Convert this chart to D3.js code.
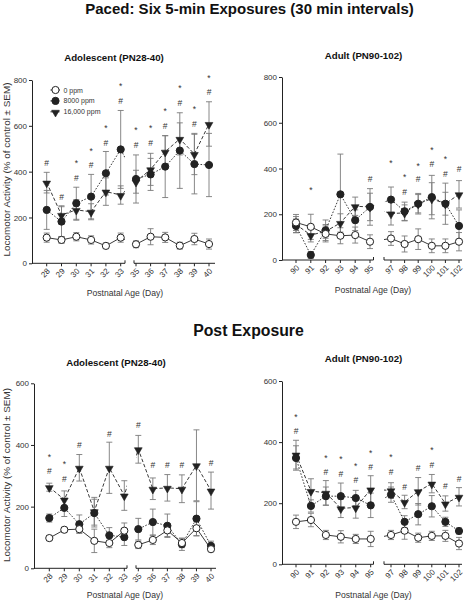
<!DOCTYPE html>
<html><head><meta charset="utf-8">
<script src="https://cdn.jsdelivr.net/npm/d3@7/dist/d3.min.js"></script>
<style>body{margin:0;background:#fff}svg{display:block}</style>
</head><body><svg id="c" width="466" height="600"></svg>
<script>
// ---------- DATA ----------
const adolDays = [28,29,30,31,32,33,35,36,37,38,39,40];
const adultDays = [90,91,92,93,94,95,97,98,99,100,101,102];
const yTicksPaced = [0,200,400,600,800];
const yTicksPost = [0,200,400,600];
const seriesNames = ["0 ppm","8000 ppm","16,000 ppm"];

// Paced – adolescent
const pacedAdol0 = [112,102,116,102,76,112,83,116,113,77,106,84];
const pacedAdol0Sem = [20,15,18,18,12,20,15,35,22,15,25,22];
const pacedAdol8000 = [233,182,262,291,393,497,368,388,422,492,433,429];
const pacedAdol8000Sem = [85,65,70,97,95,170,105,70,135,165,130,138];
const pacedAdol16000 = [352,211,233,225,313,298,356,410,487,543,477,608];
const pacedAdol16000Sem = [45,40,45,35,60,40,50,70,70,70,90,97];
const pacedAdolStar = [null,null,447,500,600,782,590,600,674,772,680,819];
const pacedAdolHash = [437,291,373,430,527,709,517,527,601,699,609,746];

// Paced – adult
const pacedAdult0 = [164,145,114,106,109,80,94,70,91,62,62,80];
const pacedAdult0Sem = [35,55,35,35,35,30,30,35,45,30,30,40];
const pacedAdult8000 = [149,22,130,287,174,232,264,213,246,275,246,149];
const pacedAdult8000Sem = [30,15,45,176,45,80,55,40,40,95,90,70];
const pacedAdult16000 = [155,109,125,162,235,232,203,206,246,268,246,287];
const pacedAdult16000Sem = [35,30,30,40,40,60,50,35,45,70,50,60];
const pacedAdultStar = [null,316,null,null,null,null,434,369,420,491,449,null];
const pacedAdultHash = [null,null,null,null,null,356,null,296,356,418,378,398];

// Post exposure – adolescent
const postAdol0 = [98,125,127,89,82,122,76,92,123,82,130,62];
const postAdol0Sem = [8,8,10,38,15,25,12,15,20,15,25,8];
const postAdol8000 = [163,196,143,179,107,101,127,150,138,78,161,73];
const postAdol8000Sem = [13,28,30,45,25,27,35,42,38,20,55,15];
const postAdol16000 = [263,223,326,185,326,236,386,258,261,258,334,252];
const postAdol16000Sem = [13,28,43,45,83,48,45,35,43,45,115,60];
const postAdolStar = [367,344,null,null,null,null,null,null,null,null,null,null];
const postAdolHash = [315,290,401,null,437,null,464,334,335,334,null,342];

// Post exposure – adult
const postAdult0 = [139,145,96,90,83,83,96,110,87,93,93,68];
const postAdult0Sem = [22,22,15,20,15,25,15,28,15,15,18,20];
const postAdult8000 = [348,191,223,223,217,193,228,139,164,190,139,109];
const postAdult8000Sem = [40,20,30,43,25,40,25,20,35,35,15,10];
const postAdult16000 = [359,240,234,183,186,245,242,204,239,264,199,221];
const postAdult16000Sem = [47,40,40,30,35,45,25,22,45,30,25,30];
const postAdultStar = [488,null,355,350,327,370,357,null,null,379,null,null];
const postAdultHash = [436,null,301,295,276,319,303,254,316,325,257,279];

// ---------- DRAW ----------
const FONT = '"Liberation Sans", Arial, Helvetica, sans-serif';
const svg = d3.select("#c").attr("font-family", FONT);
const INK = "#222", TXT = "#333", ERR = "#7a7a7a";

svg.append("text").attr("x",249.5).attr("y",13.5).attr("text-anchor","middle")
  .attr("font-size",15).attr("font-weight","bold").attr("fill","#111")
  .text("Paced: Six 5-min Exposures (30 min intervals)");
svg.append("text").attr("x",248.5).attr("y",335.7).attr("text-anchor","middle")
  .attr("font-size",15.8).attr("font-weight","bold").attr("fill","#111")
  .text("Post Exposure");

const panels = [
  {id:"p1", title:"Adolescent (PN28-40)", days:adolDays, yTicks:yTicksPaced,
   series:[[pacedAdol0,pacedAdol0Sem],[pacedAdol8000,pacedAdol8000Sem],[pacedAdol16000,pacedAdol16000Sem]],
   star:pacedAdolStar, hash:pacedAdolHash,
   ax:32, y0:263.3, yTop:80, rA:[46.7,120.7], rB:[136,209], segA:[32,125], segB:[134,215],
   tx:114, ty:60.5, lx:125, ly:296, labY:169.5, legend:true},
  {id:"p2", title:"Adult (PN90-102)", days:adultDays, yTicks:yTicksPaced,
   series:[[pacedAdult0,pacedAdult0Sem],[pacedAdult8000,pacedAdult8000Sem],[pacedAdult16000,pacedAdult16000Sem]],
   star:pacedAdultStar, hash:pacedAdultHash,
   ax:282, y0:260, yTop:77, rA:[296,370], rB:[391,459], segA:[282,373.5], segB:[384,462],
   tx:363.5, ty:58.5, lx:373, ly:293, labY:null, legend:false},
  {id:"p3", title:"Adolescent (PN28-40)", days:adolDays, yTicks:yTicksPost,
   series:[[postAdol0,postAdol0Sem],[postAdol8000,postAdol8000Sem],[postAdol16000,postAdol16000Sem]],
   star:postAdolStar, hash:postAdolHash,
   ax:34, y0:568.3, yTop:383.3, rA:[49.3,124.3], rB:[138.3,211], segA:[34,127], segB:[136,216],
   tx:116, ty:366, lx:125, ly:598, labY:475, legend:false},
  {id:"p4", title:"Adult (PN90-102)", days:adultDays, yTicks:yTicksPost,
   series:[[postAdult0,postAdult0Sem],[postAdult8000,postAdult8000Sem],[postAdult16000,postAdult16000Sem]],
   star:postAdultStar, hash:postAdultHash,
   ax:282, y0:564.3, yTop:381, rA:[296,370.7], rB:[391,459], segA:[282,373.5], segB:[384,462],
   tx:363.5, ty:361.5, lx:373.5, ly:598, labY:null, legend:false}
];

const styles = [
  {dash:null, fill:"#fff", sym:"circle"},
  {dash:"1.6,1.6", fill:INK, sym:"circle"},
  {dash:"3.5,2", fill:INK, sym:"tri"}
];
const triPath = d3.symbol().type(d3.symbolTriangle).size(26)();

function drawMarker(g, st, cx, cy){
  if (st.sym === "circle") {
    g.append("circle").attr("cx",cx).attr("cy",cy).attr("r",3.6)
      .attr("fill",st.fill).attr("stroke",INK).attr("stroke-width",1);
  } else {
    g.append("path").attr("d",triPath)
      .attr("transform",`translate(${cx},${cy+0.7}) rotate(180)`)
      .attr("fill",st.fill).attr("stroke",INK).attr("stroke-width",0.6);
  }
}

panels.forEach(p => {
  const g = svg.append("g");
  const yMax = p.yTicks[p.yTicks.length-1];
  const y = d3.scaleLinear().domain([0,yMax]).range([p.y0,p.yTop]);
  const xa = d3.scalePoint().domain(p.days.slice(0,6)).range(p.rA);
  const xb = d3.scalePoint().domain(p.days.slice(6)).range(p.rB);
  const x = d => xa.domain().includes(d) ? xa(d) : xb(d);

  ["A","B"].forEach(k => {
    const s = p["seg"+k];
    svg.append("clipPath").attr("id",p.id+k).append("rect")
      .attr("x",s[0]).attr("y",0).attr("width",s[1]-s[0]).attr("height",600);
  });

  const yAxis = d3.axisLeft(y).tickValues(p.yTicks).tickSize(3).tickPadding(2).tickSizeOuter(0);
  const ya = g.append("g").attr("transform",`translate(${p.ax},0)`).call(yAxis);
  ya.select(".domain").attr("stroke",INK);
  ya.selectAll(".tick line").attr("stroke",INK);
  ya.selectAll(".tick text").attr("font-size",8).attr("fill",TXT).attr("font-family",FONT);

  [[p.segA, xa],[p.segB, xb]].forEach(([s, sc], si) => {
    g.append("line").attr("x1",s[0]).attr("x2",s[1]).attr("y1",p.y0).attr("y2",p.y0)
      .attr("stroke",INK).attr("stroke-width",1);
    const bx = si===0 ? s[1] : s[0];
    g.append("line").attr("x1",bx).attr("x2",bx).attr("y1",p.y0-3).attr("y2",p.y0)
      .attr("stroke",INK).attr("stroke-width",1);
    sc.domain().forEach(d => {
      const tx = sc(d);
      g.append("line").attr("x1",tx).attr("x2",tx).attr("y1",p.y0).attr("y2",p.y0+3)
        .attr("stroke",INK).attr("stroke-width",1);
      g.append("text").attr("transform",`translate(${tx+1.8},${p.y0+6.3}) rotate(-45)`)
        .attr("text-anchor","end").attr("dy","0.35em").attr("font-size",8).attr("fill",TXT)
        .text(d);
    });
  });

  g.append("text").attr("x",p.tx).attr("y",p.ty).attr("text-anchor","middle")
    .attr("font-size",9.7).attr("font-weight","bold").attr("fill","#111").text(p.title);
  g.append("text").attr("x",p.lx).attr("y",p.ly).attr("text-anchor","middle")
    .attr("font-size",8.6).attr("fill",TXT).text("Postnatal Age (Day)");
  if (p.labY !== null) {
    g.append("text").attr("transform",`translate(9.8,${p.labY}) rotate(-90)`)
      .attr("text-anchor","middle").attr("font-size",9.9).attr("fill",TXT)
      .text("Locomotor Activity (% of control \u00B1 SEM)");
  }

  p.series.forEach(([vals, sems]) => {
    vals.forEach((v,i) => {
      const cx = x(p.days[i]);
      const lo = y(Math.max(0,v-sems[i])), hi = y(v+sems[i]);
      g.append("line").attr("x1",cx).attr("x2",cx).attr("y1",lo).attr("y2",hi)
        .attr("stroke",ERR).attr("stroke-width",0.9);
      [lo,hi].forEach(yy => g.append("line").attr("x1",cx-3).attr("x2",cx+3)
        .attr("y1",yy).attr("y2",yy).attr("stroke",ERR).attr("stroke-width",0.9));
    });
  });

  const line = d3.line().x((v,i) => x(p.days[i])).y(v => y(v));
  [2,1,0].forEach(si => {
    const [vals] = p.series[si];
    ["A","B"].forEach(k => {
      const path = g.append("path").attr("d",line(vals)).attr("fill","none")
        .attr("stroke",INK).attr("stroke-width",0.9)
        .attr("clip-path",`url(#${p.id+k})`);
      if (styles[si].dash) path.attr("stroke-dasharray",styles[si].dash);
    });
  });

  [2,1,0].forEach(si => {
    const [vals] = p.series[si];
    vals.forEach((v,i) => drawMarker(g, styles[si], x(p.days[i]), y(v)));
  });

  p.days.forEach((d,i) => {
    if (p.star[i] !== null)
      g.append("text").attr("x",x(d)).attr("y",y(p.star[i])+4.9).attr("text-anchor","middle")
        .attr("font-size",8.5).attr("fill",TXT).text("*");
    if (p.hash[i] !== null)
      g.append("text").attr("x",x(d)).attr("y",y(p.hash[i])+3).attr("text-anchor","middle")
        .attr("font-size",8.5).attr("fill",TXT).text("#");
  });

  if (p.legend) {
    seriesNames.forEach((n,i) => {
      const ly = 90 + i*10.9;
      const l = g.append("line").attr("x1",50.5).attr("x2",60).attr("y1",ly).attr("y2",ly)
        .attr("stroke",INK).attr("stroke-width",1);
      if (styles[i].dash) l.attr("stroke-dasharray",styles[i].dash);
      drawMarker(g, styles[i], 55.5, ly);
      g.append("text").attr("x",63.5).attr("y",ly+2.5).attr("font-size",7).attr("fill",TXT).text(n);
    });
  }
});
</script></body></html>
